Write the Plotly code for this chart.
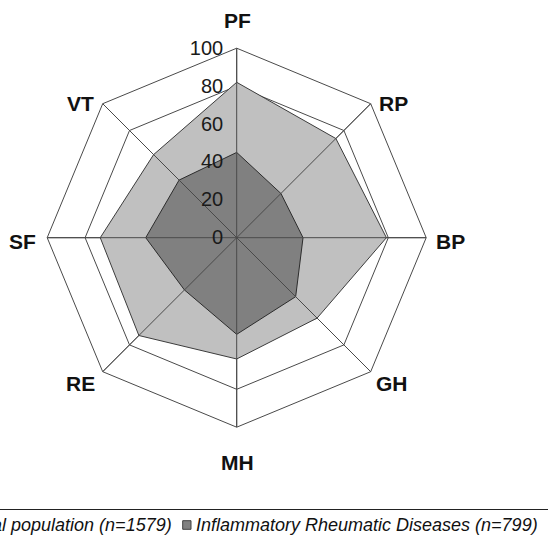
import plotly.graph_objects as go

categories = ["PF", "RP", "BP", "GH", "MH", "RE", "SF", "VT"]
general_population = [82, 74, 79, 60, 64, 73, 72, 62]
rheumatic_diseases = [45, 33, 35, 44, 51, 39, 48, 43]
radial_ticks = [0, 20, 40, 60, 80, 100]
series_names = ["General population (n=1579)", "Inflammatory Rheumatic Diseases (n=799)"]

W, H = 548, 538
def px(x):
    return x / W
def py(y):
    return 1 - y / H

def closed(vals):
    return list(vals) + [vals[0]]

fig = go.Figure()
fig.add_trace(go.Scatterpolar(
    r=closed(general_population), theta=closed(categories), name=series_names[0],
    mode="lines", fill="toself", fillcolor="#c0c0c0",
    line=dict(color="#3c3c3c", width=1), showlegend=False, hoverinfo="skip"))
fig.add_trace(go.Scatterpolar(
    r=closed(rheumatic_diseases), theta=closed(categories), name=series_names[1],
    mode="lines", fill="toself", fillcolor="#808080",
    line=dict(color="#2c2c2c", width=1), showlegend=False, hoverinfo="skip"))

# spokes drawn above the filled areas
rmax = radial_ticks[-1]
spoke_r, spoke_t = [], []
for c in categories:
    spoke_r += [0, rmax, None]
    spoke_t += [c, c, None]
fig.add_trace(go.Scatterpolar(r=spoke_r, theta=spoke_t, mode="lines",
                              line=dict(color="#4a4a4a", width=1),
                              showlegend=False, hoverinfo="skip"))

cx, cy, R = 236.7, 237.7, 189.5
fig.update_layout(
    width=W, height=H,
    margin=dict(l=0, r=0, t=0, b=0),
    paper_bgcolor="white",
    showlegend=False,
    polar=dict(
        domain=dict(x=[px(cx - R), px(cx + R)], y=[py(cy + R), py(cy - R)]),
        bgcolor="white",
        gridshape="linear",
        radialaxis=dict(range=[0, rmax], tickvals=radial_ticks, angle=90,
                        side="counterclockwise", tickangle=90,
                        showline=False, showgrid=True, gridcolor="#4a4a4a", gridwidth=1,
                        ticks="outside", ticklen=6, tickcolor="rgba(0,0,0,0)",
                        tickfont=dict(family="Arial, Liberation Sans", size=20, color="#1a1a1a"),
                        layer="above traces"),
        angularaxis=dict(categoryarray=categories, categoryorder="array",
                         rotation=90, direction="clockwise",
                         showline=True, linecolor="#4a4a4a", linewidth=1,
                         showgrid=True, gridcolor="#4a4a4a", gridwidth=1,
                         showticklabels=False, ticks=""),
    ),
)

# category labels around the chart (pixel centres)
label_centres = {"PF": (237, 20), "RP": (393, 103), "BP": (450, 241), "GH": (392, 383),
                 "MH": (237, 462), "RE": (80, 383), "SF": (22, 241), "VT": (80, 103)}
for c in categories:
    lx, ly = label_centres[c]
    fig.add_annotation(text="<b>" + c + "</b>", xref="paper", yref="paper",
                       x=px(lx), y=py(ly), xanchor="center", yanchor="middle",
                       showarrow=False,
                       font=dict(family="Arial, Liberation Sans", size=21, color="#111111"))

# legend (cropped at the left as in the reference)
leg_font = dict(family="Arial, Liberation Sans", size=18, color="#111111")
fig.add_shape(type="line", xref="paper", yref="paper", x0=0, x1=1, y0=py(509.5), y1=py(509.5),
              line=dict(color="#222222", width=1))
fig.add_shape(type="rect", xref="paper", yref="paper", x0=px(-48), x1=px(-39.5),
              y0=py(529.3), y1=py(520.7), fillcolor="#c0c0c0", line=dict(color="#404040", width=1))
fig.add_annotation(text="<i>" + series_names[0] + "</i>", xref="paper", yref="paper",
                   x=px(174), y=py(525), xanchor="right", yanchor="middle",
                   showarrow=False, font=leg_font)
fig.add_shape(type="rect", xref="paper", yref="paper", x0=px(182.7), x1=px(191),
              y0=py(529.3), y1=py(520.7), fillcolor="#808080", line=dict(color="#404040", width=1))
fig.add_annotation(text="<i>" + series_names[1] + "</i>", xref="paper", yref="paper",
                   x=px(194), y=py(525), xanchor="left", yanchor="middle",
                   showarrow=False, font=leg_font)

fig.write_html("out.html", config={"displayModeBar": False},
               post_script="document.body.style.margin='0px';document.body.style.overflow='hidden';")
